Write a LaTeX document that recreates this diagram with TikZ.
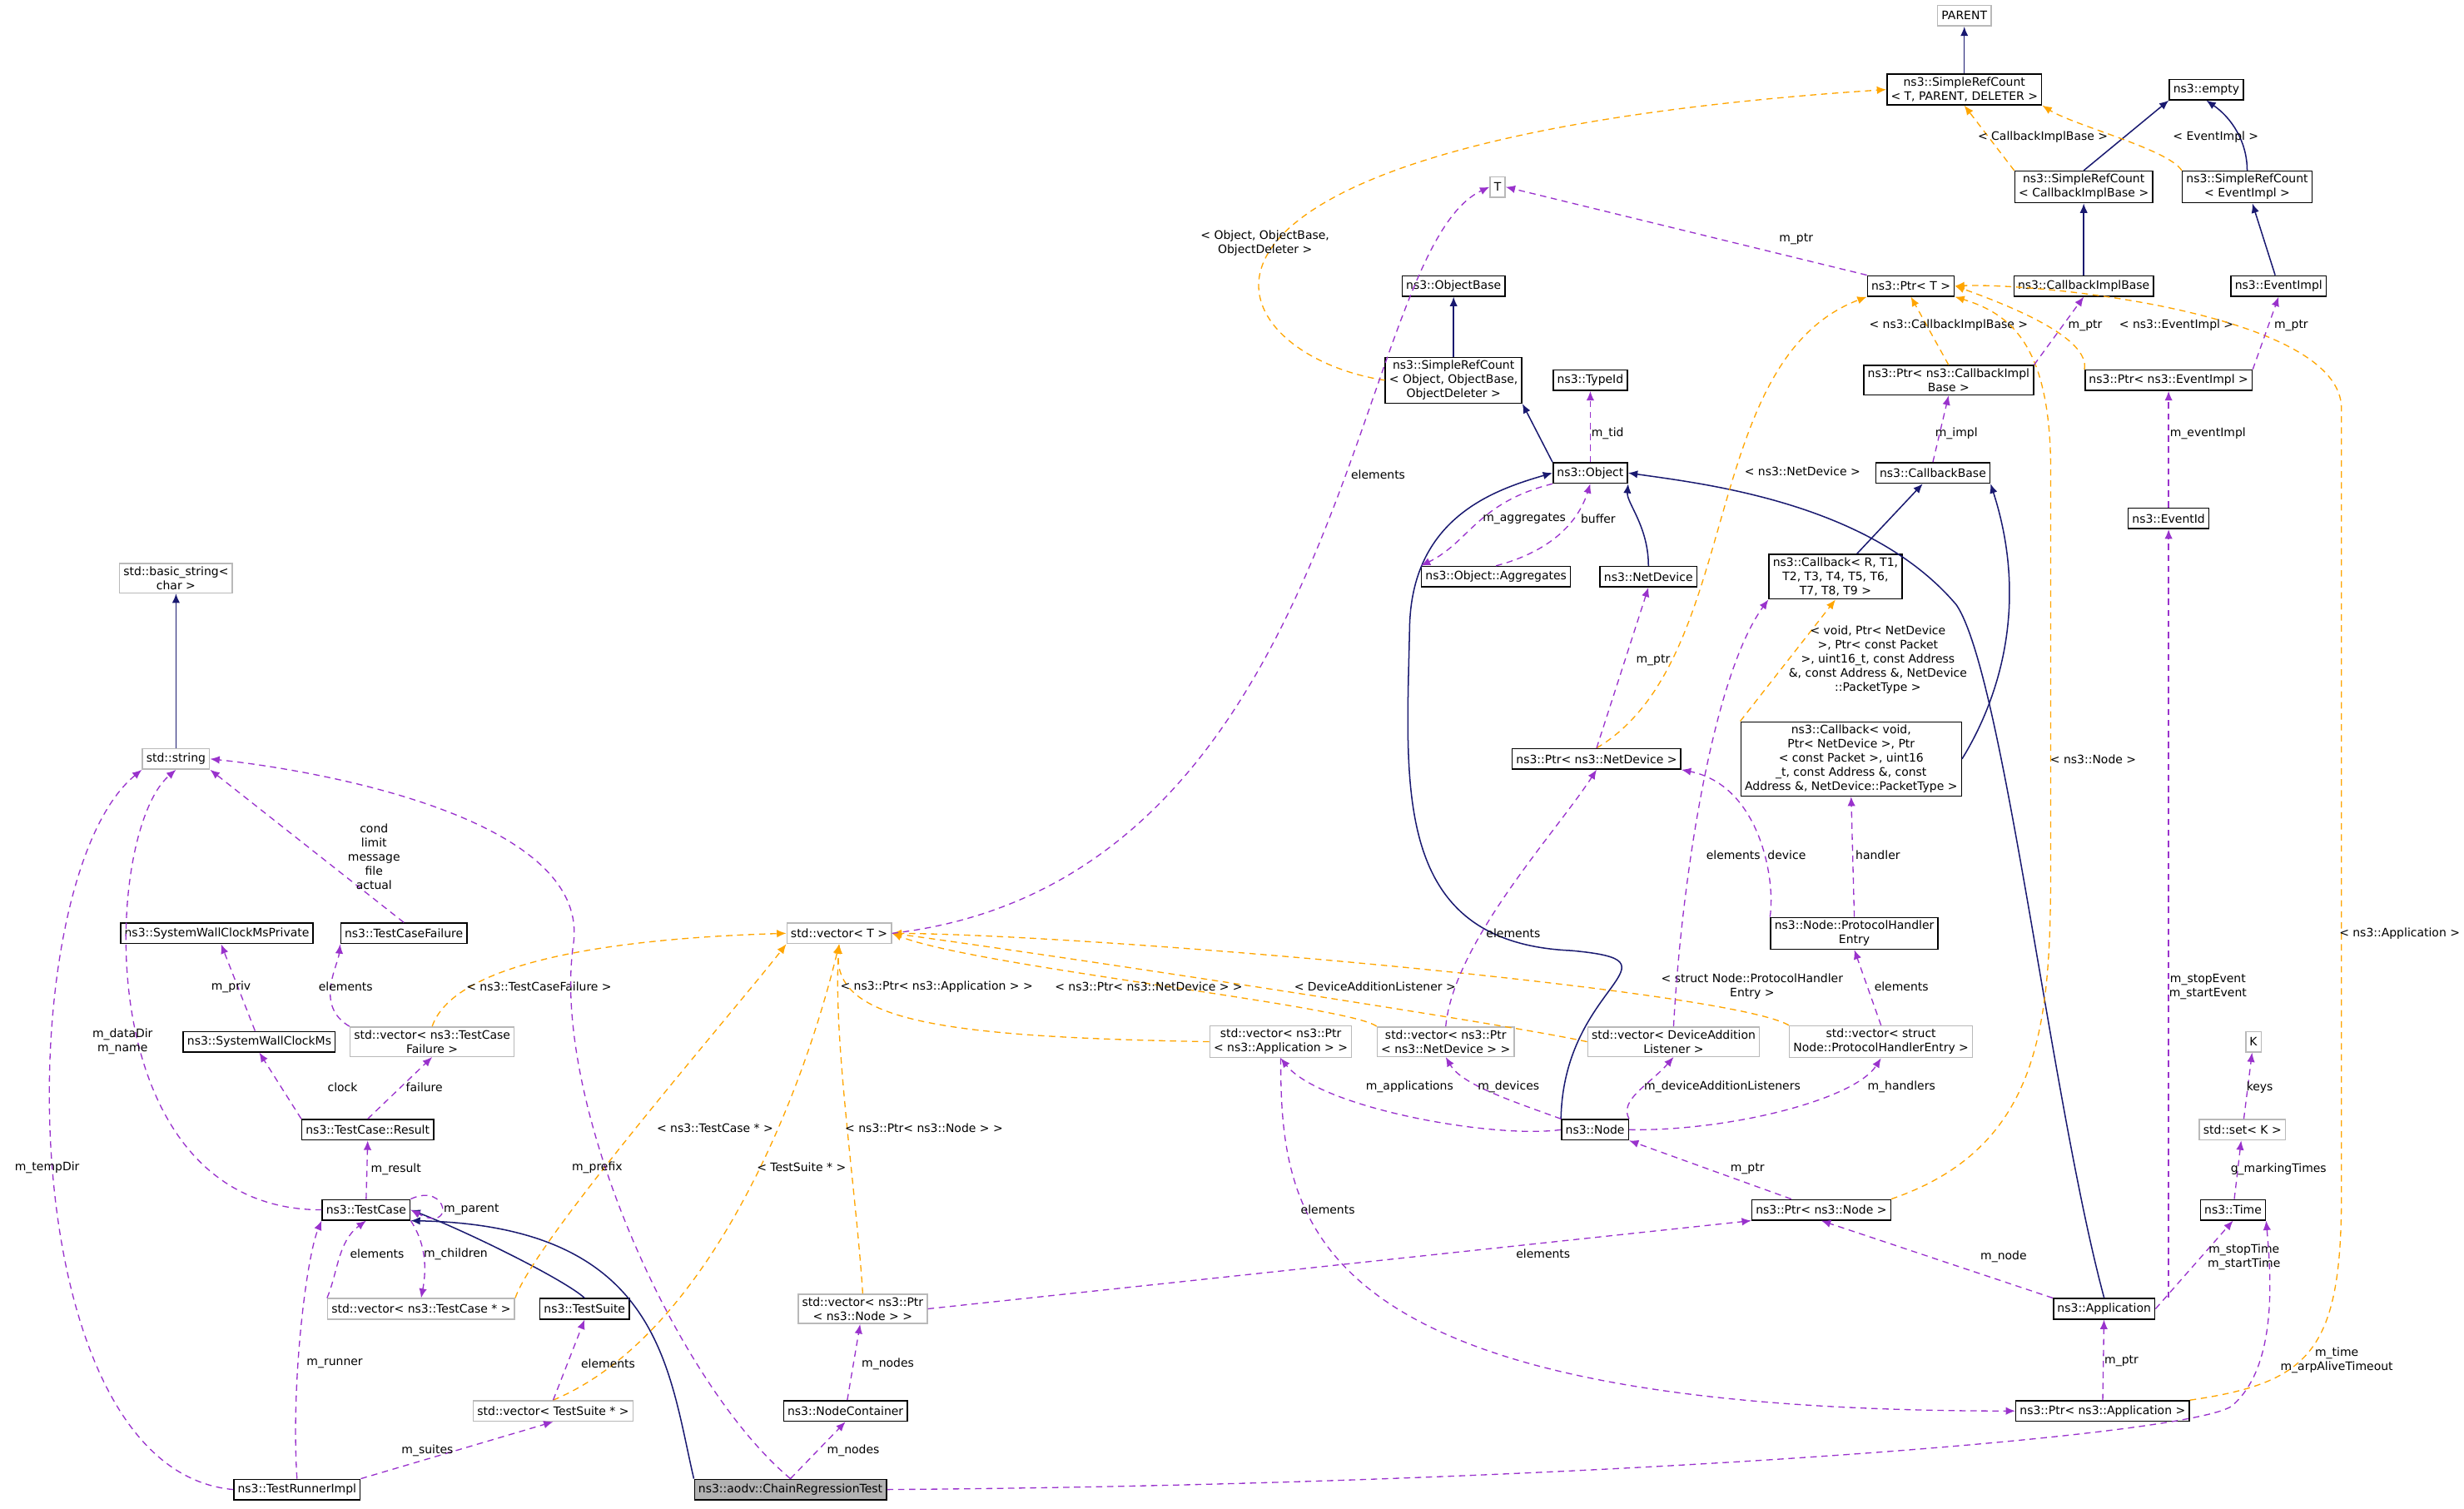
\documentclass[tikz,border=0pt]{standalone}
\usepackage{fontspec}
\setmainfont{DejaVu Sans}
\usetikzlibrary{arrows.meta}
\definecolor{navy}{RGB}{25,25,112}
\definecolor{orch}{RGB}{153,50,204}
\definecolor{orng}{RGB}{255,165,0}
\begin{document}
\begin{tikzpicture}[x=1pt,y=-1pt,
 every node/.style={font=\fontsize{7.4}{9}\selectfont},
 bx/.style={draw=black,thick,fill=white,inner xsep=2.5pt,inner ysep=2pt,align=center,minimum height=13pt},
 gb/.style={bx,draw=gray!55},
 lab/.style={align=center,inner sep=1pt},
 inh/.style={navy,line width=0.8pt,-{Latex[length=6pt,width=5pt]}},
 use/.style={orch,dashed,line width=0.7pt,dash pattern=on 4pt off 3pt,-{Latex[length=6pt,width=5pt]}},
 tpl/.style={orng,dashed,line width=0.7pt,dash pattern=on 4pt off 3pt,-{Latex[length=6pt,width=5pt]}}]
\useasboundingbox (0,0) rectangle (1568,960);
% nodes
\node[gb] (parent) at (1250,10) {PARENT};
\node[bx] (srct) at (1250,57) {ns3::SimpleRefCount\\< T, PARENT, DELETER >};
\node[bx] (empty) at (1404,57) {ns3::empty};
\node[bx] (srccib) at (1326,119) {ns3::SimpleRefCount\\< CallbackImplBase >};
\node[bx] (srcei) at (1430,119) {ns3::SimpleRefCount\\< EventImpl >};
\node[gb] (T) at (953,119) {T};
\node[bx] (objbase) at (925,182) {ns3::ObjectBase};
\node[bx] (ptrT) at (1216,182) {ns3::Ptr< T >};
\node[bx] (cib) at (1326,182) {ns3::CallbackImplBase};
\node[bx] (ei) at (1450,182) {ns3::EventImpl};
\node[bx] (srco) at (925,242) {ns3::SimpleRefCount\\< Object, ObjectBase,\\ObjectDeleter >};
\node[bx] (typeid) at (1012,242) {ns3::TypeId};
\node[bx] (pcib) at (1240,242) {ns3::Ptr< ns3::CallbackImpl\\Base >};
\node[bx] (pei) at (1380,242) {ns3::Ptr< ns3::EventImpl >};
\node[bx] (obj) at (1012,301) {ns3::Object};
\node[bx] (cbb) at (1230,301) {ns3::CallbackBase};
\node[bx] (evid) at (1380,330) {ns3::EventId};
\node[gb] (bstr) at (112,368) {std::basic\_string<\\char >};
\node[bx] (aggr) at (952,367) {ns3::Object::Aggregates};
\node[bx] (nd) at (1049,367) {ns3::NetDevice};
\node[bx] (cbr) at (1168,367) {ns3::Callback< R, T1,\\T2, T3, T4, T5, T6,\\T7, T8, T9 >};
\node[bx] (cbv) at (1178,483) {ns3::Callback< void,\\Ptr< NetDevice >, Ptr\\< const Packet >, uint16\\\_t, const Address \&, const\\Address \&, NetDevice::PacketType >};
\node[gb] (str) at (112,483) {std::string};
\node[bx] (pnd) at (1016,483) {ns3::Ptr< ns3::NetDevice >};
\node[bx] (swcp) at (138,594) {ns3::SystemWallClockMsPrivate};
\node[bx] (tcf) at (257,594) {ns3::TestCaseFailure};
\node[gb] (vt) at (534,594) {std::vector< T >};
\node[bx] (phe) at (1180,594) {ns3::Node::ProtocolHandler\\Entry};
\node[gb] (vtcf) at (275,663) {std::vector< ns3::TestCase\\Failure >};
\node[bx] (swc) at (165,663) {ns3::SystemWallClockMs};
\node[gb] (vpa) at (815,663) {std::vector< ns3::Ptr\\< ns3::Application > >};
\node[gb] (vpnd) at (920,663) {std::vector< ns3::Ptr\\< ns3::NetDevice > >};
\node[gb] (vdal) at (1065,663) {std::vector< DeviceAddition\\Listener >};
\node[gb] (vphe) at (1197,663) {std::vector< struct\\Node::ProtocolHandlerEntry >};
\node[gb] (K) at (1434,663) {K};
\node[bx] (res) at (234,719) {ns3::TestCase::Result};
\node[bx] (node) at (1015,719) {ns3::Node};
\node[gb] (setk) at (1427,719) {std::set< K >};
\node[bx] (tc) at (233,770) {ns3::TestCase};
\node[bx] (pnode) at (1159,770) {ns3::Ptr< ns3::Node >};
\node[bx] (time) at (1421,770) {ns3::Time};
\node[gb] (vtc) at (268,833) {std::vector< ns3::TestCase * >};
\node[bx] (ts) at (372,833) {ns3::TestSuite};
\node[gb] (vpn) at (549,833) {std::vector< ns3::Ptr\\< ns3::Node > >};
\node[bx] (app) at (1339,833) {ns3::Application};
\node[gb] (vts) at (352,898) {std::vector< TestSuite * >};
\node[bx] (nc) at (538,898) {ns3::NodeContainer};
\node[bx] (papp) at (1338,898) {ns3::Ptr< ns3::Application >};
\node[bx] (tri) at (189,948) {ns3::TestRunnerImpl};
\node[bx,fill=gray!60] (crt) at (503,948) {ns3::aodv::ChainRegressionTest};
% inheritance
\draw[inh] (srct) -- (parent);
\draw[inh] (srccib.north) -- (empty.south west);
\draw[inh] (srcei.north) .. controls (1430,90) and (1420,75) .. (empty.south);
\draw[inh] (cib) -- (srccib);
\draw[inh] (ei) -- (srcei);
\draw[inh] (srco) -- (objbase);
\draw[inh] (obj.north west) -- (srco.south east);
\draw[inh] (nd.north) .. controls (1049,335) and (1035,320) .. (obj.south east);
\draw[inh] (cbr) -- (cbb);
\draw[inh] (cbv.east) .. controls (1275,440) and (1290,380) .. (cbb.south east);
\draw[inh] (node.north west) .. controls (995,625) and (1075,612) .. (1000,605) .. controls (885,600) and (895,500) .. (897,400) .. controls (898,330) and (950,312) .. (obj.west);
\draw[inh] (app.north) .. controls (1305,700) and (1275,430) .. (1245,385) .. controls (1190,320) and (1085,308) .. (obj.east);
\draw[inh] (str) -- (bstr);
\draw[inh] (ts.north) .. controls (360,815) and (300,785) .. (tc.east);
\draw[inh] (crt.north west) .. controls (425,870) and (420,780) .. (tc.south east);
% template
\draw[tpl] (srccib.north west) -- (srct.south);
\node[lab] (l1) at (1300,87) {< CallbackImplBase >};
\draw[tpl] (srcei.north west) .. controls (1380,95) and (1320,80) .. (srct.south east);
\node[lab] (l2) at (1410,87) {< EventImpl >};
\draw[tpl] (srco.west) .. controls (770,225) and (700,90) .. (srct.west);
\node[lab] (l3) at (805,155) {< Object, ObjectBase,\\ObjectDeleter >};
\draw[tpl] (pcib.north) -- (ptrT.south);
\node[lab] (l4) at (1240,207) {< ns3::CallbackImplBase >};
\draw[tpl] (pei.north west) .. controls (1330,215) and (1280,195) .. (ptrT.east);
\node[lab] (l5) at (1385,207) {< ns3::EventImpl >};
\draw[tpl] (pnd.north) .. controls (1110,420) and (1080,230) .. (ptrT.south west);
\node[lab] (l6) at (1147,300) {< ns3::NetDevice >};
\draw[tpl] (pnode.north east) .. controls (1300,730) and (1305,650) .. (1305,550) -- (1305,300) .. controls (1305,220) and (1280,200) .. (ptrT.south east);
\node[lab] (l7) at (1332,483) {< ns3::Node >};
\draw[tpl] (papp.north east) .. controls (1470,880) and (1490,860) .. (1490,760) -- (1490,260) .. controls (1490,200) and (1300,180) .. (ptrT.east);
\node[lab] (l8) at (1527,594) {< ns3::Application >};
\draw[tpl] (cbv.north west) -- (cbr.south);
\node[lab] (l9) at (1195,420) {< void, Ptr< NetDevice\\>, Ptr< const Packet\\>, uint16\_t, const Address\\\&, const Address \&, NetDevice\\::PacketType >};
\draw[tpl] (vtcf.north) .. controls (290,610) and (400,597) .. (vt.west);
\node[lab] (l10) at (343,628) {< ns3::TestCaseFailure >};
\draw[tpl] (vpa.west) .. controls (600,660) and (530,650) .. (vt.south);
\node[lab] (l11) at (596,628) {< ns3::Ptr< ns3::Application > >};
\draw[tpl] (vpnd.north west) .. controls (860,640) and (620,615) .. (vt.east);
\node[lab] (l12) at (731,628) {< ns3::Ptr< ns3::NetDevice > >};
\draw[tpl] (vdal.west) .. controls (950,650) and (650,605) .. (vt.east);
\node[lab] (l13) at (875,628) {< DeviceAdditionListener >};
\draw[tpl] (vphe.north west) .. controls (1100,630) and (700,595) .. (vt.east);
\node[lab] (l14) at (1115,628) {< struct Node::ProtocolHandler\\Entry >};
\draw[tpl] (vtc.north east) .. controls (340,790) and (470,640) .. (vt.south west);
\node[lab] (l15) at (455,718) {< ns3::TestCase * >};
\draw[tpl] (vts.north) .. controls (450,850) and (510,700) .. (vt.south);
\node[lab] (l16) at (510,743) {< TestSuite * >};
\draw[tpl] (vpn.north) .. controls (545,760) and (530,660) .. (vt.south);
\node[lab] (l17) at (588,718) {< ns3::Ptr< ns3::Node > >};
% usage
\draw[use] (ptrT.north west) -- (T.east);
\node[lab] (u1) at (1143,152) {m\_ptr};
\draw[use] (vt.east) .. controls (860,560) and (860,160) .. (T.west);
\node[lab] (u2) at (877,302) {elements};
\draw[use] (obj.north) -- (typeid.south);
\node[lab] (u3) at (1023,276) {m\_tid};
\draw[use] (obj.south west) .. controls (940,320) and (935,345) .. (aggr.north west);
\node[lab] (u4) at (970,330) {m\_aggregates};
\draw[use] (aggr.north) .. controls (990,350) and (1005,330) .. (obj.south);
\node[lab] (u5) at (1017,330) {buffer};
\draw[use] (pcib.north east) -- (cib.south);
\node[lab] (u6) at (1327,207) {m\_ptr};
\draw[use] (pei.north east) -- (ei.south);
\node[lab] (u7) at (1458,207) {m\_ptr};
\draw[use] (cbb.north) -- (pcib.south);
\node[lab] (u8) at (1245,276) {m\_impl};
\draw[use] (evid) -- (pei);
\node[lab] (u9) at (1405,276) {m\_eventImpl};
\draw[use] (pnd.north) -- (nd.south);
\node[lab] (u10) at (1052,420) {m\_ptr};
\draw[use] (vpnd.north) .. controls (925,600) and (990,530) .. (pnd.south);
\node[lab] (u11) at (963,594) {elements};
\draw[use] (phe.north west) .. controls (1130,560) and (1120,500) .. (pnd.south east);
\node[lab] (u12) at (1137,544) {device};
\draw[use] (phe.north) -- (cbv.south);
\node[lab] (u13) at (1195,544) {handler};
\draw[use] (vdal.north) .. controls (1070,560) and (1090,430) .. (cbr.south west);
\node[lab] (u14) at (1103,544) {elements};
\draw[use] (vphe.north) -- (phe.south);
\node[lab] (u15) at (1210,628) {elements};
\draw[use] (node.west) .. controls (950,725) and (840,705) .. (vpa.south);
\node[lab] (u16) at (897,692) {m\_applications};
\draw[use] (node.north west) .. controls (960,700) and (930,690) .. (vpnd.south);
\node[lab] (u17) at (960,692) {m\_devices};
\draw[use] (node.north east) .. controls (1030,700) and (1050,690) .. (vdal.south);
\node[lab] (u18) at (1096,692) {m\_deviceAdditionListeners};
\draw[use] (node.east) .. controls (1100,720) and (1180,700) .. (vphe.south);
\node[lab] (u19) at (1210,692) {m\_handlers};
\draw[use] (pnode) -- (node.south east);
\node[lab] (u20) at (1112,744) {m\_ptr};
\draw[use] (app.north west) -- (pnode.south);
\node[lab] (u21) at (1275,800) {m\_node};
\draw[use] (app.north -| evid) -- (evid);
\node[lab] (u22) at (1405,628) {m\_stopEvent\\m\_startEvent};
\draw[use] (app.east) -- (time.south);
\node[lab] (u23) at (1428,800) {m\_stopTime\\m\_startTime};
\draw[use] (time) -- (setk);
\node[lab] (u24) at (1450,744) {g\_markingTimes};
\draw[use] (setk) -- (K);
\node[lab] (u25) at (1438,692) {keys};
\draw[use] (papp) -- (app);
\node[lab] (u26) at (1350,866) {m\_ptr};
\draw[use] (vpa.south) .. controls (815,780) and (830,898) .. (papp.west);
\node[lab] (u27) at (845,770) {elements};
\draw[use] (vpn.east) -- (pnode.south west);
\node[lab] (u28) at (982,798) {elements};
\draw[use] (nc) -- (vpn);
\node[lab] (u29) at (565,868) {m\_nodes};
\draw[use] (crt.north) -- (nc.south);
\node[lab] (u30) at (543,923) {m\_nodes};
\draw[use] (crt.east) .. controls (1000,945) and (1390,915) .. (1420,895) .. controls (1450,870) and (1445,810) .. (time.south east);
\node[lab] (u31) at (1487,866) {m\_time\\m\_arpAliveTimeout};
\draw[use] (crt.north) .. controls (430,880) and (350,700) .. (365,600) .. controls (375,520) and (200,490) .. (str.east);
\node[lab] (u32) at (380,743) {m\_prefix};
\draw[use] (tri.west) .. controls (5,935) and (5,560) .. (str.south west);
\node[lab] (u33) at (30,743) {m\_tempDir};
\draw[use] (tc.west) .. controls (55,770) and (65,530) .. (str.south);
\node[lab] (u34) at (78,663) {m\_dataDir\\m\_name};
\draw[use] (tcf.north) -- (str.south east);
\node[lab] (u35) at (238,545) {cond\\limit\\message\\file\\actual};
\draw[use] (swc) -- (swcp);
\node[lab] (u36) at (147,628) {m\_priv};
\draw[use] (vtcf.north west) .. controls (200,640) and (215,615) .. (tcf.south west);
\node[lab] (u37) at (220,628) {elements};
\draw[use] (res.north west) -- (swc.south);
\node[lab] (u38) at (218,692) {clock};
\draw[use] (res.north) -- (vtcf.south);
\node[lab] (u39) at (270,692) {failure};
\draw[use] (tc.north) -- (res.south);
\node[lab] (u40) at (252,744) {m\_result};
\draw[use] (tc.north east) .. controls (285,752) and (290,785) .. (tc.east);
\node[lab] (u41) at (300,770) {m\_parent};
\draw[use] (tc.south east) .. controls (270,790) and (272,805) .. (vtc.north);
\node[lab] (u42) at (290,798) {m\_children};
\draw[use] (vtc.north west) .. controls (215,810) and (215,790) .. (tc.south);
\node[lab] (u43) at (240,798) {elements};
\draw[use] (vts.north) -- (ts.south);
\node[lab] (u44) at (387,868) {elements};
\draw[use] (tri.north) .. controls (185,880) and (195,800) .. (tc.south west);
\node[lab] (u45) at (213,868) {m\_runner};
\draw[use] (tri.north east) -- (vts.south);
\node[lab] (u46) at (272,923) {m\_suites};
\end{tikzpicture}
\end{document}
